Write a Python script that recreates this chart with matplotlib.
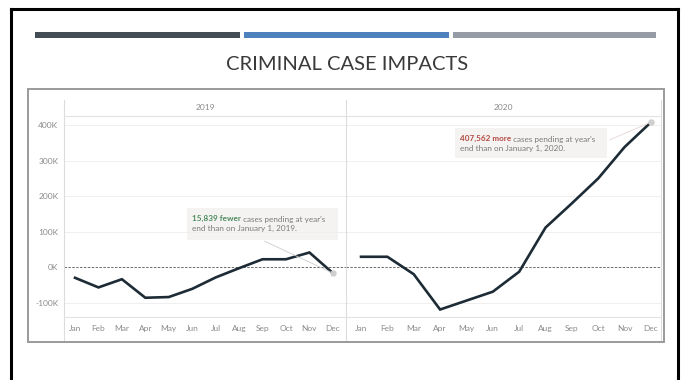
import matplotlib.pyplot as plt
from matplotlib.patches import Rectangle
from matplotlib.lines import Line2D

months = ["Jan", "Feb", "Mar", "Apr", "May", "Jun",
          "Jul", "Aug", "Sep", "Oct", "Nov", "Dec"]
# change in pending criminal cases since Jan 1, thousands
pending_2019 = [-29, -56, -33, -85, -83, -60, -28, -2, 23, 23, 42, -15.839]
pending_2020 = [30, 30, -19, -118, -93, -68, -12, 112, 180, 250, 338, 407.562]
y_ticks = [-100, 0, 100, 200, 300, 400]

W, H = 685, 380


def fx(x):
    return x / W


def fy(y):
    return 1 - y / H


fig = plt.figure(figsize=(W / 100, H / 100), dpi=100)
fig.patch.set_facecolor("white")

# slide frame (open at the bottom)
for xs, ys in [((11, 11), (9, 400)), ((11, 678), (9, 9)), ((678, 678), (9, 400))]:
    fig.add_artist(Line2D([fx(x) for x in xs], [fy(y) for y in ys],
                          color="black", lw=2.2, transform=fig.transFigure))

# three accent bars
for x0, x1, c in [(35, 240, "#434d55"), (244, 449, "#4f81bd"), (453, 656, "#959ca6")]:
    fig.add_artist(Rectangle((fx(x0), fy(38)), fx(x1) - fx(x0), fy(32) - fy(38),
                             color=c, transform=fig.transFigure, lw=0))

fig.text(fx(347), fy(65), "CRIMINAL CASE IMPACTS", ha="center", va="center",
         fontsize=14.5, color="#3a3a3a", family="Lato")

# chart box
fig.add_artist(Rectangle((fx(28), fy(342)), fx(664) - fx(28), fy(89) - fy(342),
                         fill=False, ec="#9a9a9a", lw=1.4, transform=fig.transFigure))

# panel frame lines
for x in (64, 346, 661):
    fig.add_artist(Line2D([fx(x), fx(x)], [fy(100), fy(340)],
                          color="#dcdcdc", lw=0.8, transform=fig.transFigure))
for y in (116, 317):
    fig.add_artist(Line2D([fx(64), fx(661)], [fy(y), fy(y)],
                          color="#e2e2e2", lw=0.8, transform=fig.transFigure))

# annotation backgrounds, behind the axes
box_c = "#f5f3f1"
for x0, x1, y0, y1 in [(187, 338, 208, 240), (455, 607, 128, 158)]:
    fig.add_artist(Rectangle((fx(x0), fy(y1)), fx(x1) - fx(x0), fy(y0) - fy(y1),
                             color=box_c, lw=0, transform=fig.transFigure, zorder=-1))

ylim = (-139, 425)
ax1 = fig.add_axes([fx(64), fy(317), fx(346) - fx(64), fy(116) - fy(317)])
ax2 = fig.add_axes([fx(346), fy(317), fx(661) - fx(346), fy(116) - fy(317)])

text_kw = dict(fontsize=6, color="#8a8a8a", family="Lato")

for ax, vals, xlim, year, hx in [(ax1, pending_2019, (-0.47, 11.56), "2019", 205),
                                 (ax2, pending_2020, (-0.57, 11.38), "2020", 503)]:
    x = list(range(len(months)))
    for t in y_ticks:
        if t != 0:
            ax.axhline(t, color="#efefef", lw=0.7, zorder=0)
    ax.axhline(0, color="#6a6a6a", lw=0.7, ls=(0, (2.5, 1.5)), zorder=1)
    ax.plot(x, vals, color="#1c2b35", lw=1.9, zorder=3, solid_joinstyle="miter")
    ax.plot(x[-1], vals[-1], "o", ms=3.6, color="#cfcfcf", zorder=4)
    ax.set_xlim(*xlim)
    ax.set_ylim(*ylim)
    ax.set_xticks(x)
    ax.set_xticklabels(months, **text_kw)
    ax.tick_params(axis="x", length=0, pad=5.5)
    ax.set_yticks(y_ticks)
    ax.tick_params(axis="y", length=0, pad=4)
    for s in ax.spines.values():
        s.set_visible(False)
    ax.patch.set_alpha(0)
    fig.text(fx(hx), fy(107), year, ha="center", va="center", **text_kw)

ax1.set_yticklabels([f"{t}K" for t in y_ticks], **text_kw)
ax2.set_yticklabels([])

# annotations
ann_kw = dict(fontsize=5.9, family="Lato", va="baseline")
grey = "#7a7a7a"

t1 = ax1.annotate("15,839 fewer", xy=(fx(192), fy(221)), xycoords="figure fraction",
                  color="#4c8a5e", fontweight="bold", **ann_kw)
ax1.annotate(" cases pending at year's", xy=(1, 0), xycoords=t1, color=grey, **ann_kw)
ax1.annotate("end than on January 1, 2019.", xy=(fx(192), fy(231)),
             xycoords="figure fraction", color=grey, **ann_kw)
ax1.annotate("", xy=(11, pending_2019[-1]), xycoords="data",
             xytext=(fx(262), fy(240)), textcoords="figure fraction",
             arrowprops=dict(arrowstyle="-", color="#cccccc", lw=0.6))

t2 = ax2.annotate("407,562 more", xy=(fx(460), fy(141)), xycoords="figure fraction",
                  color="#b24a43", fontweight="bold", **ann_kw)
ax2.annotate(" cases pending at year's", xy=(1, 0), xycoords=t2, color=grey, **ann_kw)
ax2.annotate("end than on January 1, 2020.", xy=(fx(460), fy(151)),
             xycoords="figure fraction", color=grey, **ann_kw)
ax2.annotate("", xy=(11, pending_2020[-1]), xycoords="data",
             xytext=(fx(607), fy(141)), textcoords="figure fraction",
             arrowprops=dict(arrowstyle="-", color="#e6d6d4", lw=0.6))

fig.savefig("out.png", dpi=100)
